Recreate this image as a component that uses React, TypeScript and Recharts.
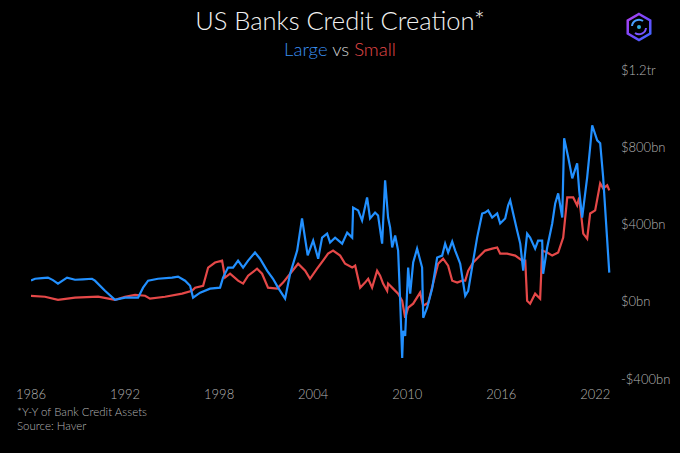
import { LineChart, Line, XAxis, YAxis } from 'recharts'

const yearTicks = [1986, 1992, 1998, 2004, 2010, 2016, 2022]
const valueTicks = [-400, 0, 400, 800, 1200]

// Large banks, y/y change in credit assets ($bn)
const largeDates = [
  1986.0, 1986.26, 1986.7, 1987.08, 1987.4, 1987.72, 1988.3, 1988.81, 1989.3, 1989.89, 1990.08, 1990.72, 1991.36,
  1992.0, 1992.83, 1993.15, 1993.47, 1994.1, 1995.0, 1995.38, 1995.83, 1996.15, 1996.34,
  1996.79, 1997.42, 1998.06, 1998.25, 1998.57, 1998.89, 1999.21, 1999.53, 1999.85, 2000.29,
  2000.61, 2001.06, 2001.44, 2001.76, 2002.21, 2002.53, 2002.98, 2003.29, 2003.65, 2004.0,
  2004.32, 2004.57, 2004.89, 2005.08, 2005.4, 2005.85, 2006.17, 2006.49, 2006.55, 2006.87,
  2007.12, 2007.44, 2007.63, 2007.95, 2008.14, 2008.4, 2008.59, 2008.78, 2008.91, 2009.04,
  2009.23, 2009.42, 2009.55, 2009.68, 2009.74, 2009.87, 2010.06, 2010.19, 2010.38, 2010.63,
  2010.95, 2011.02, 2011.27, 2011.59, 2011.91, 2012.23, 2012.42, 2012.61, 2012.87, 2013.06,
  2013.38, 2013.7, 2013.89, 2014.21, 2014.46, 2014.78, 2014.97, 2015.16, 2015.42, 2015.74,
  2015.93, 2016.25, 2016.44, 2016.57, 2016.76, 2017.01, 2017.21, 2017.4, 2017.65, 2017.84,
  2018.16, 2018.35, 2018.61, 2018.67, 2018.93, 2019.25, 2019.44, 2019.63, 2019.89, 2020.01,
  2020.27, 2020.53, 2020.84, 2020.97, 2021.16, 2021.48, 2021.67, 2021.8, 2022.12, 2022.31,
  2022.5, 2022.89,
]
const largeValues = [
  110, 119, 122, 125, 112, 94, 125, 114, 116, 119, 109, 57, 10,
  21, 21, 73, 109, 119, 125, 130, 109, 83, 21,
  47, 68, 73, 125, 177, 177, 213, 177, 213, 255,
  223, 161, 119, 73, 16, 145, 265, 431, 240, 317,
  223, 332, 353, 307, 332, 301, 358, 332, 488, 473,
  421, 540, 431, 462, 447, 301, 629, 436, 384, 281,
  343, 265, 5, -291, -151, -177, 177, 42, 203, 275,
  177, -83, -31, 68, 229, 239, 301, 255, 312, 265,
  197, 31, 57, 213, 332, 457, 462, 473, 436, 457,
  405, 431, 499, 525, 457, 369, 301, 161, 353, 332,
  275, 317, 317, 145, 281, 405, 509, 561, 436, 847,
  748, 639, 717, 577, 436, 644, 800, 914, 836, 821,
  644, 151,
]

// Small banks, y/y change in credit assets ($bn)
const smallDates = [
  1986.0, 1986.89, 1987.72, 1988.81, 1990.28, 1991.36, 1992.0, 1992.64, 1993.28, 1993.59,
  1994.55, 1995.64, 1996.27, 1996.47, 1996.98, 1997.3, 1997.74, 1998.19, 1998.38, 1998.7,
  1999.21, 1999.53, 1999.85, 2000.42, 2000.74, 2001.12, 2001.7, 2002.08, 2002.53, 2003.04,
  2003.49, 2003.8, 2004.25, 2004.63, 2004.95, 2005.27, 2005.72, 2006.04, 2006.49, 2006.68,
  2007.0, 2007.31, 2007.51, 2007.76, 2008.08, 2008.27, 2008.46, 2008.72, 2008.78, 2009.1,
  2009.42, 2009.68, 2009.87, 2010.06, 2010.38, 2010.82, 2011.02, 2011.34, 2011.65, 2011.97,
  2012.29, 2012.61, 2012.87, 2013.19, 2013.5, 2013.7, 2013.89, 2014.21, 2014.65, 2014.97,
  2015.42, 2015.74, 2015.93, 2016.38, 2016.89, 2017.34, 2017.53, 2017.65, 2017.84, 2018.16,
  2018.48, 2018.61, 2018.93, 2019.25, 2019.63, 2019.95, 2020.21, 2020.59, 2020.84, 2020.97,
  2021.23, 2021.48, 2021.67, 2021.99, 2022.31, 2022.5, 2022.76, 2022.89,
]
const smallValues = [
  30, 26, 10, 21, 26, 10, 26, 36, 31, 16,
  26, 42, 57, 73, 83, 177, 203, 213, 125, 145,
  109, 94, 135, 171, 145, 73, 68, 99, 145, 197,
  161, 119, 171, 213, 249, 265, 239, 197, 177, 187,
  73, 99, 119, 73, 161, 135, 94, 57, 94, 68,
  42, 5, -83, -31, -10, 47, -21, -5, 94, 197,
  223, 187, 109, 99, 109, 109, 161, 203, 239, 265,
  275, 281, 249, 249, 239, 213, 213, 5, -10, 42,
  16, 265, 255, 239, 255, 332, 540, 540, 499, 540,
  353, 327, 457, 473, 613, 587, 603, 577,
]

const largeData = largeDates.map((t, i) => ({ t, v: largeValues[i] }))
const smallData = smallDates.map((t, i) => ({ t, v: smallValues[i] }))

const BLUE = '#2290ff'
const RED = '#e54848'
const LABEL = '#b4b4b4'
const FONT = 'Lato, "Open Sans", sans-serif'

const formatValue = (v: number) => {
  if (v === 1200) return '$1.2tr'
  if (v < 0) return `-$${-v}bn`
  return `$${v}bn`
}

function Logo() {
  const cx = 639
  const cy = 27
  const r = 13
  const pts = [0, 1, 2, 3, 4, 5]
    .map(i => {
      const a = (Math.PI / 3) * i - Math.PI / 2
      return `${cx + r * Math.cos(a)},${cy + r * Math.sin(a)}`
    })
    .join(' ')
  return (
    <g>
      <defs>
        <linearGradient id="logoGrad" x1="0" y1="0" x2="1" y2="1">
          <stop offset="0%" stopColor="#b040f0" />
          <stop offset="60%" stopColor="#6a4cff" />
          <stop offset="100%" stopColor="#3a6cff" />
        </linearGradient>
      </defs>
      <polygon points={pts} fill="none" stroke="url(#logoGrad)" strokeWidth={2.5} />
      <path
        d={`M ${cx - 7} ${cy - 1} A 7 7 0 0 1 ${cx + 4} ${cy - 6}`}
        stroke="#4aa0ff"
        strokeWidth={2}
        fill="none"
      />
      <path
        d={`M ${cx + 7} ${cy + 1} A 7 7 0 0 1 ${cx - 4} ${cy + 6}`}
        stroke="#7a55ff"
        strokeWidth={2}
        fill="none"
      />
      <circle cx={cx} cy={cy} r={2} fill="#30b0e0" />
    </g>
  )
}

export default function App() {
  return (
    <div style={{ position: 'relative', width: 680, height: 453, background: '#000' }}>
      <style>{'body{margin:0;background:#000}'}</style>
      <LineChart
        width={680}
        height={453}
        margin={{ top: 70, right: 9, left: 31, bottom: 54 }}
        style={{ position: 'absolute', left: 0, top: 0 }}
      >
        <XAxis
          type="number"
          dataKey="t"
          domain={[1986, 2023]}
          ticks={yearTicks}
          allowDataOverflow
          axisLine={false}
          tickLine={false}
          tickSize={0}
          tickMargin={11}
          height={20}
          tick={{ fill: LABEL, fontSize: 13, fontFamily: FONT, fontWeight: 300 }}
        />
        <YAxis
          orientation="right"
          type="number"
          domain={[-400, 1200]}
          ticks={valueTicks}
          allowDataOverflow
          axisLine={false}
          tickLine={false}
          tickSize={0}
          tickMargin={10}
          width={60}
          tickFormatter={formatValue}
          tick={{ fill: LABEL, fontSize: 13, fontFamily: FONT, fontWeight: 300, textAnchor: 'start' }}
        />
        <Line
          data={smallData}
          dataKey="v"
          type="linear"
          stroke={RED}
          strokeWidth={2.2}
          dot={false}
          isAnimationActive={false}
        />
        <Line
          data={largeData}
          dataKey="v"
          type="linear"
          stroke={BLUE}
          strokeWidth={2.2}
          dot={false}
          isAnimationActive={false}
        />
      </LineChart>
      <svg
        width={680}
        height={453}
        style={{ position: 'absolute', left: 0, top: 0, pointerEvents: 'none' }}
      >
        <text
          x={340}
          y={30}
          textAnchor="middle"
          fill="#f2f2f2"
          fontSize={25.5}
          fontWeight={300}
          fontFamily={FONT}
        >
          US Banks Credit Creation*
        </text>
        <text x={340} y={56} textAnchor="middle" fontSize={18.5} fontFamily={FONT} fontWeight={300}>
          <tspan fill="#3a8ff0">Large</tspan>
          <tspan fill="#d0d0d0"> vs </tspan>
          <tspan fill={RED}>Small</tspan>
        </text>
        <text x={17} y={416} fill={LABEL} fontSize={11.5} fontFamily={FONT} fontWeight={300}>
          *Y-Y of Bank Credit Assets
        </text>
        <text x={17} y={430} fill={LABEL} fontSize={11.5} fontFamily={FONT} fontWeight={300}>
          Source: Haver
        </text>
        <Logo />
      </svg>
    </div>
  )
}
